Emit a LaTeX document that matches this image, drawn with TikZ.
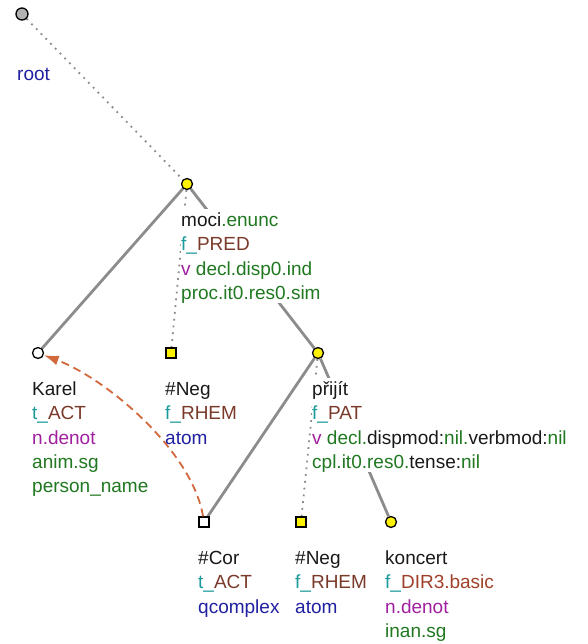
\documentclass[tikz,border=0pt]{standalone}
\usepackage{fontspec}
\setmainfont{Liberation Sans}
\usetikzlibrary{arrows.meta,backgrounds}

\definecolor{tteal}{RGB}{26,154,154}
\definecolor{tbrown}{RGB}{122,58,42}
\definecolor{tred}{RGB}{160,64,42}
\definecolor{tpurple}{RGB}{160,32,160}
\definecolor{tgreen}{RGB}{32,120,32}
\definecolor{tblue}{RGB}{32,32,160}
\definecolor{tcoref}{RGB}{210,105,60}
\newcommand\cteal[1]{\textcolor{tteal}{#1}}
\newcommand\cbrown[1]{\textcolor{tbrown}{#1}}
\newcommand\cred[1]{\textcolor{tred}{#1}}
\newcommand\cpurple[1]{\textcolor{tpurple}{#1}}
\newcommand\cgreen[1]{\textcolor{tgreen}{#1}}
\newcommand\cblue[1]{\textcolor{tblue}{#1}}

\begin{document}
\begin{tikzpicture}[x=1pt,y=-1pt,
  tnode/.style={circle,draw=black,line width=1.3pt,fill=yellow,minimum size=11pt,inner sep=0pt},
  tsquare/.style={rectangle,draw=black,line width=1.3pt,fill=yellow,minimum size=10pt,inner sep=0pt},
  tlabel/.style={anchor=north west,align=left,fill=white,inner sep=0pt,
    font=\fontsize{19}{24.4}\selectfont,text=black!90},
  solidedge/.style={draw=black!45,line width=2.8pt},
  dotedge/.style={draw=black!45,line width=1.8pt,dash pattern=on 1.8pt off 5pt}]
  \useasboundingbox (0,0) rectangle (587,644);

  % tree nodes
  \node[tnode,fill=black!30,minimum size=12pt] (root) at (22,14) {};
  \node[tnode] (moci) at (187,184) {};
  \node[tnode,fill=white,minimum size=11pt] (karel) at (38,353) {};
  \node[tsquare] (neg1) at (171,353) {};
  \node[tnode] (prijit) at (318,353) {};
  \node[tsquare,fill=white] (cor) at (204,522) {};
  \node[tsquare] (neg2) at (301,522) {};
  \node[tnode] (koncert) at (391,522) {};

  % edges go under everything
  \begin{pgfonlayer}{background}
    \draw[dotedge] (root) -- (moci);
    \draw[solidedge] (moci) -- (karel);
    \draw[dotedge] (moci) -- (neg1);
    \draw[solidedge] (moci) -- (prijit);
    \draw[solidedge] (prijit) -- (cor);
    \draw[dotedge] (prijit) -- (neg2);
    \draw[solidedge] (prijit) -- (koncert);
  \end{pgfonlayer}

  % node labels
  \node[tlabel] (root-lbl) at (17,63) {\strut\cblue{root}};
  \node[tlabel] (moci-lbl) at (181,209) {\strut moci\cgreen{.enunc}\\
    \cteal{f\_}\cbrown{PRED}\\
    \cpurple{v} \cgreen{decl.disp0.ind}\\
    \cgreen{proc.it0.res0.sim}};
  \node[tlabel] (karel-lbl) at (32,378) {\strut Karel\\
    \cteal{t\_}\cbrown{ACT}\\
    \cpurple{n.denot}\\
    \cgreen{anim.sg}\\
    \cgreen{person\_name}};
  \node[tlabel] (neg1-lbl) at (165,378) {\strut\#Neg\\
    \cteal{f\_}\cbrown{RHEM}\\
    \cblue{atom}};
  \node[tlabel] (prijit-lbl) at (312,378) {\strut přijít\\
    \cteal{f\_}\cbrown{PAT}\\
    \cpurple{v} \cgreen{decl.}dispmod:\cgreen{nil.}verbmod:\cgreen{nil}\\
    \cgreen{cpl.it0.res0.}tense:\cgreen{nil}};
  \node[tlabel] (cor-lbl) at (198,547) {\strut\#Cor\\
    \cteal{t\_}\cbrown{ACT}\\
    \cblue{qcomplex}};
  \node[tlabel] (neg2-lbl) at (295,547) {\strut\#Neg\\
    \cteal{f\_}\cbrown{RHEM}\\
    \cblue{atom}};
  \node[tlabel] (koncert-lbl) at (385,547) {\strut koncert\\
    \cteal{f\_}\cred{DIR3.basic}\\
    \cpurple{n.denot}\\
    \cgreen{inan.sg}};

  % coreference
  \draw[-{Latex[length=15pt,width=10pt]},tcoref,line width=1.8pt,dash pattern=on 8pt off 5pt]
    (cor) .. controls (192,450) and (105,378) .. (karel);
\end{tikzpicture}
\end{document}
